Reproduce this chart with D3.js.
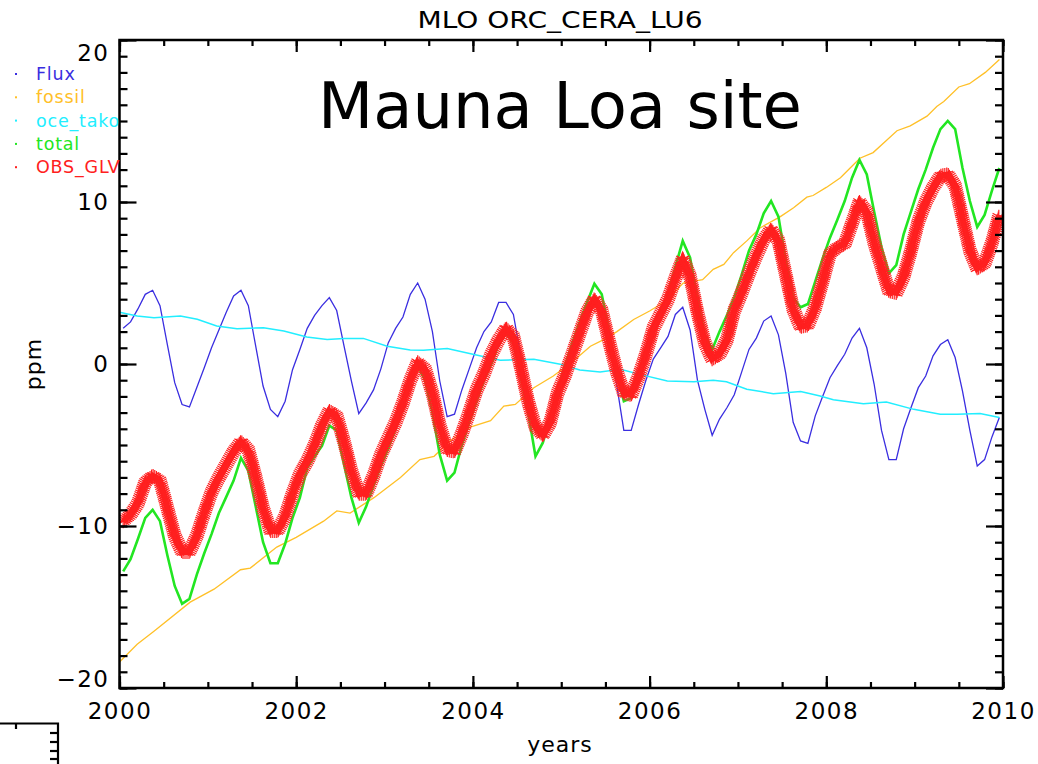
<!DOCTYPE html>
<html>
<head>
<meta charset="utf-8">
<script src="https://cdn.jsdelivr.net/npm/d3@7"></script>
<style>
  body { margin: 0; background: #fff; }
  text { font-family: "DejaVu Sans", sans-serif; }
</style>
</head>
<body>
<script>
// monthly values, Jan 2000 .. Dec 2009 (ppm)
const flux = [
  2.2, 2.6, 3.4, 4.3, 4.55, 3.6, 1.2, -1.15, -2.5, -2.65, -1.45, -0.25,
  1.0, 2.1, 3.2, 4.2, 4.55, 3.6, 1.1, -1.36, -2.8, -3.25, -2.3, -0.35,
  0.9, 2.2, 3.0, 3.6, 4.1, 3.3, 1.1, -1.05, -3.07, -2.4, -1.6, -0.3,
  1.3, 2.2, 2.9, 4.3, 5.0, 4.0, 2.0, -1.05, -3.25, -3.1, -1.6, -0.3,
  1.0, 2.0, 2.6, 3.8, 3.8, 3.06, 0.5, -2.0, -3.9, -4.4, -3.4, -1.8,
  -0.5, 0.8, 2.0, 3.2, 3.9, 3.0, 1.4, -1.2, -4.1, -4.1, -2.5, -1.0,
  0.3, 1.0, 1.7, 3.06, 3.5, 2.1, -1.0, -2.8, -4.4, -3.4, -2.7, -1.9,
  -0.5, 0.9, 1.6, 2.65, 2.96, 1.8, -0.6, -3.6, -4.75, -4.9, -3.2, -2.0,
  -0.85, -0.1, 0.6, 1.6, 2.2, 1.0, -1.25, -4.1, -5.9, -5.9, -4.0, -2.7,
  -1.46, -0.74, 0.5, 1.2, 1.5, 0.4, -1.67, -4.1, -6.3, -5.9, -4.5, -3.3
];
const total = [
  -12.8, -12.05, -10.8, -9.5, -9.0, -9.7, -11.8, -13.7, -14.8, -14.5, -13.0, -11.7,
  -10.5, -9.2, -8.2, -7.2, -5.8, -6.6, -8.8, -11.0, -12.3, -12.3, -11.1, -9.5,
  -8.25, -6.4, -5.7, -5.06, -3.8, -4.1, -6.2, -8.25, -9.8, -8.8, -7.5, -6.3,
  -5.2, -4.0, -2.7, -1.05, -0.1, -1.0, -3.0, -5.6, -7.2, -6.7, -5.0, -3.6,
  -2.3, -1.0, 0.0, 1.2, 1.9, 1.3, -0.8, -3.0, -5.7, -4.86, -3.2, -1.6,
  -0.1, 1.3, 2.6, 3.8, 4.95, 4.3, 2.0, -0.5, -2.3, -2.1, -0.6, 1.0,
  2.2, 3.2, 4.3, 6.0, 7.6, 6.56, 4.0, 1.8, 0.9, 2.0, 3.0, 4.1,
  5.5, 7.0, 8.0, 9.3, 10.06, 9.1, 6.36, 4.1, 3.5, 3.7, 5.1, 6.5,
  7.8, 8.9, 10.06, 11.5, 12.6, 11.7, 9.4, 7.2, 5.6, 6.1, 8.0, 9.4,
  10.8, 12.0, 13.35, 14.5, 15.0, 14.5, 12.1, 10.06, 8.46, 9.2, 10.7, 12.1
];
const obs = [
  -9.7, -9.3, -8.6, -7.3, -6.9, -7.2, -8.9, -10.6, -11.6, -11.6, -10.6, -9.2,
  -7.9, -7.0, -6.2, -5.4, -4.8, -5.3, -7.0, -8.9, -10.3, -10.3, -9.4, -8.0,
  -6.8, -6.0, -5.0, -3.8, -2.9, -3.2, -4.8, -6.6, -8.0, -8.0, -6.9, -5.6,
  -4.6, -3.6, -2.4, -1.0, 0.1, -0.3, -1.8, -3.8, -5.3, -5.4, -4.3, -3.0,
  -1.6, -0.6, 0.6, 1.5, 2.2, 1.7, -0.2, -2.3, -3.9, -4.4, -3.6, -1.8,
  -0.7, 0.6, 1.9, 3.2, 4.0, 3.3, 1.4, -0.4, -1.8, -1.9, -0.8, 0.6,
  2.2, 3.1, 4.0, 5.3, 6.5, 5.4, 3.2, 1.3, 0.3, 0.6, 1.5, 3.3,
  4.4, 5.6, 6.7, 7.7, 8.3, 7.6, 5.5, 3.4, 2.3, 2.4, 3.5, 5.1,
  6.8, 7.2, 7.4, 8.7, 10.0, 9.4, 7.5, 6.0, 4.5, 4.4, 5.4, 7.0,
  8.8, 10.0, 10.9, 11.6, 11.7, 11.0, 9.0, 7.0, 5.9, 6.2, 7.5, 9.2
];
const fossilT = [2000.0, 2000.2, 2000.39, 2000.8, 2001.07, 2001.37, 2001.48, 2001.78, 2002.0, 2002.31,
  2002.46, 2002.61, 2002.88, 2003.18, 2003.4, 2003.56, 2003.74, 2003.97, 2004.2, 2004.35,
  2004.48, 2004.69, 2004.91, 2005.14, 2005.33, 2005.48, 2005.63, 2005.82, 2006.0, 2006.19,
  2006.38, 2006.6, 2006.72, 2006.84, 2006.95, 2007.1, 2007.25, 2007.48, 2007.63, 2007.78,
  2007.85, 2008.0, 2008.16, 2008.27, 2008.38, 2008.53, 2008.68, 2008.8, 2008.95, 2009.14,
  2009.25, 2009.33, 2009.5, 2009.62, 2009.8, 2009.96];
const fossil = [-18.4, -17.3, -16.5, -14.7, -13.9, -12.7, -12.6, -11.3, -10.7, -9.7,
  -9.07, -9.2, -8.25, -7.0, -5.9, -5.7, -4.75, -3.9, -3.5, -2.6,
  -2.5, -1.46, -0.74, 0.2, 1.1, 1.5, 2.0, 2.75, 3.27, 3.9,
  5.0, 5.2, 5.84, 6.15, 6.87, 7.6, 8.4, 9.1, 9.65, 10.3,
  10.4, 10.9, 11.5, 12.1, 12.7, 13.05, 13.8, 14.4, 14.7, 15.3,
  15.9, 16.2, 17.1, 17.3, 18.0, 18.8];
const oceanT = [2000.0, 2000.2, 2000.39, 2000.69, 2000.88, 2001.1, 2001.33, 2001.63, 2001.86, 2002.12,
  2002.35, 2002.54, 2002.76, 2003.03, 2003.29, 2003.44, 2003.71, 2004.0, 2004.31, 2004.69,
  2004.99, 2005.21, 2005.44, 2005.67, 2005.89, 2006.2, 2006.5, 2006.72, 2006.87, 2007.1,
  2007.4, 2007.71, 2007.93, 2008.08, 2008.42, 2008.68, 2008.99, 2009.29, 2009.48, 2009.74, 2009.96];
const ocean = [3.2, 2.96, 2.86, 2.96, 2.76, 2.35, 2.18, 2.24, 2.04, 1.67,
  1.52, 1.58, 1.58, 1.1, 0.86, 0.85, 0.95, 0.6, 0.23, 0.29,
  -0.02, -0.37, -0.49, -0.33, -0.64, -1.05, -1.1, -1.0, -1.1, -1.56,
  -1.83, -1.7, -1.97, -2.2, -2.45, -2.35, -2.8, -3.1, -3.1, -3.05, -3.3];

const legendNames = ["Flux", "fossil", "oce_tako", "total", "OBS_GLV"];
const legendColors = ["#3a2ee0", "#ffc028", "#22eeff", "#22e622", "#ff2020"];
const xMajor = [2000, 2002, 2004, 2006, 2008, 2010];
const yMajor = [-20, -10, 0, 10, 20];

const months = d3.range(flux.length).map(i => 2000 + (i + 0.5) / 12);

const W = 1038, H = 764;
const svg = d3.select("body").append("svg").attr("width", W).attr("height", H);

const x = d3.scaleLinear().domain([2000, 2010]).range([119.5, 1003]);
const y = d3.scaleLinear().domain([-20, 20]).range([688, 40]);

const plot = svg.append("g");
svg.append("clipPath").attr("id", "clip").append("rect")
  .attr("x", x(2000)).attr("y", y(20)).attr("width", x(2010) - x(2000)).attr("height", y(-20) - y(20));
const lines = plot.append("g").attr("clip-path", "url(#clip)");

const line = d3.line().x(d => x(d[0])).y(d => y(d[1]));

lines.append("path").datum(d3.zip(months, flux))
  .attr("d", line).attr("fill", "none").attr("stroke", legendColors[0]).attr("stroke-width", 1.3);
lines.append("path").datum(d3.zip(fossilT, fossil))
  .attr("d", line).attr("fill", "none").attr("stroke", legendColors[1]).attr("stroke-width", 1.3);
lines.append("path").datum(d3.zip(oceanT, ocean))
  .attr("d", line).attr("fill", "none").attr("stroke", legendColors[2]).attr("stroke-width", 1.5);
lines.append("path").datum(d3.zip(months, total))
  .attr("d", line).attr("fill", "none").attr("stroke", legendColors[3]).attr("stroke-width", 2.6);

// obs: line drawn with dense asterisk symbols
const obsPath = lines.append("path").datum(d3.zip(months, obs))
  .attr("d", line).attr("fill", "none").attr("stroke", legendColors[4]).attr("stroke-width", 6);
const len = obsPath.node().getTotalLength();
const star = d3.symbol(d3.symbolAsterisk, 145)();
const stars = lines.append("g").attr("stroke", legendColors[4]).attr("stroke-width", 1.2).attr("fill", "none");
for (let l = 0; l <= len; l += 2) {
  const p = obsPath.node().getPointAtLength(l);
  stars.append("path").attr("d", star).attr("transform", `translate(${p.x},${p.y})`);
}

// axes
function styleAxis(g) {
  g.select(".domain").remove();
  g.selectAll("line").attr("stroke", "#000").attr("stroke-width", 2.2);
  g.selectAll("text").attr("fill", "#000").attr("font-size", 23).style("letter-spacing", "1.5px");
}
const xMinor = d3.range(2000, 2010.01, 0.5);
const yMinor = d3.range(-20, 20.01, 1);

svg.append("g").attr("transform", `translate(0,${y(-20)})`)
  .call(d3.axisBottom(x).tickValues(xMinor).tickSize(-6).tickFormat("")).call(styleAxis);
svg.append("g").attr("transform", `translate(0,${y(-20)})`)
  .call(d3.axisBottom(x).tickValues(xMajor).tickSize(-12).tickPadding(15).tickFormat(d3.format("d")))
  .call(styleAxis);
svg.append("g").attr("transform", `translate(0,${y(20)})`)
  .call(d3.axisTop(x).tickValues(xMinor).tickSize(-6).tickFormat("")).call(styleAxis);
svg.append("g").attr("transform", `translate(0,${y(20)})`)
  .call(d3.axisTop(x).tickValues(xMajor).tickSize(-12).tickFormat("")).call(styleAxis);

svg.append("g").attr("transform", `translate(${x(2000)},0)`)
  .call(d3.axisLeft(y).tickValues(yMinor).tickSize(-8).tickFormat("")).call(styleAxis);
svg.append("g").attr("transform", `translate(${x(2000)},0)`)
  .call(d3.axisLeft(y).tickValues(yMajor).tickSize(-17).tickPadding(10).tickFormat(d3.format("d")))
  .call(styleAxis)
  .call(g => g.selectAll(".tick text").attr("dy", d => d === 20 ? "0.9em" : d === -20 ? "-0.05em" : "0.32em"));
svg.append("g").attr("transform", `translate(${x(2010)},0)`)
  .call(d3.axisRight(y).tickValues(yMinor).tickSize(-8).tickFormat("")).call(styleAxis);
svg.append("g").attr("transform", `translate(${x(2010)},0)`)
  .call(d3.axisRight(y).tickValues(yMajor).tickSize(-17).tickFormat("")).call(styleAxis);

svg.append("rect")
  .attr("x", x(2000)).attr("y", y(20)).attr("width", x(2010) - x(2000)).attr("height", y(-20) - y(20))
  .attr("fill", "none").attr("stroke", "#000").attr("stroke-width", 2.5);

// titles
svg.append("text").attr("transform", "translate(560,28) scale(1.22,1)").attr("text-anchor", "middle")
  .attr("font-size", 23).text("MLO ORC_CERA_LU6");
svg.append("text").attr("x", 318).attr("y", 128)
  .attr("font-size", 64).text("Mauna Loa site");
svg.append("text").attr("x", 560).attr("y", 752).attr("text-anchor", "middle")
  .attr("font-size", 22).style("letter-spacing", "1px").text("years");
svg.append("text").attr("transform", "translate(41,364) rotate(-90)").attr("text-anchor", "middle")
  .attr("font-size", 22).style("letter-spacing", "1px").text("ppm");

// legend
const leg = svg.append("g");
legendNames.forEach((n, i) => {
  const ly = 74 + i * 23.3;
  leg.append("rect").attr("x", 15).attr("y", ly - 1).attr("width", 2).attr("height", 2).attr("fill", legendColors[i]);
  leg.append("text").attr("x", 36).attr("y", ly + 6).attr("font-size", 17.5)
    .style("letter-spacing", "0.8px").attr("fill", legendColors[i]).text(n);
});

// remnant frame corner at bottom left
const corner = svg.append("g").attr("stroke", "#000").attr("stroke-width", 2.2).attr("fill", "none");
corner.append("path").attr("d", "M0,723.5H58V764");
corner.append("path").attr("d", "M16,723.5V729");
[733, 742, 751, 759].forEach(v => corner.append("path").attr("d", `M58,${v}H50`));
</script>
</body>
</html>
